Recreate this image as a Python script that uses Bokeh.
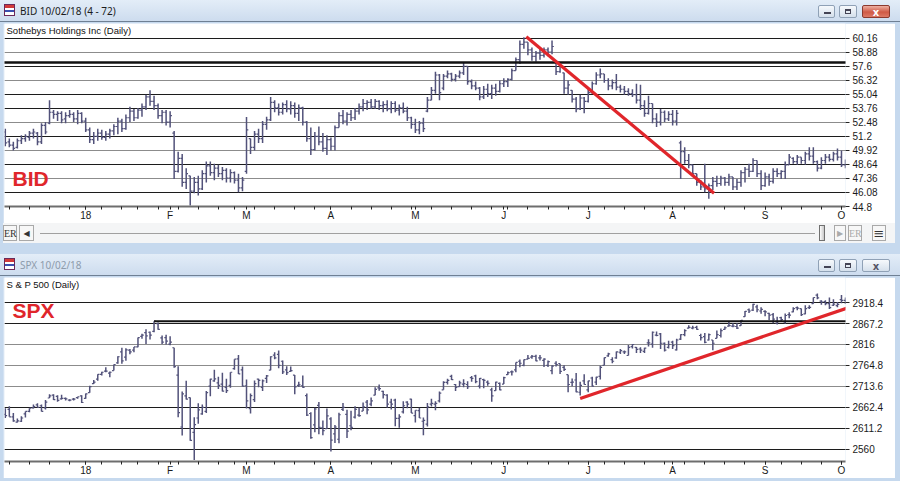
import pandas as pd
from bokeh.plotting import figure
from bokeh.models import (ColumnDataSource, Range1d, FixedTicker, Grid, Label, Div,
                          CustomJSTickFormatter)
from bokeh.layouts import column
from bokeh.embed import file_html
from bokeh.resources import INLINE

# ---------------- data ----------------
holidays = ["2017-12-25", "2018-01-01", "2018-01-15", "2018-02-19", "2018-03-30",
            "2018-05-28", "2018-07-04", "2018-09-03"]
dates = [d for d in pd.bdate_range("2017-12-01", "2018-10-02")
         if d.strftime("%Y-%m-%d") not in holidays]

month_labels = ["18", "F", "M", "A", "M", "J", "J", "A", "S", "O"]

bid_open = [51.6, 50.7, 50.4, 50.2, 50.8, 51.0, 51.1, 51.5, 51.5, 50.7,
            52.2, 52.4, 53.4, 53.2, 53.3, 52.8, 53.1, 53.2, 52.8, 53.3,
            52.6, 51.8, 50.9, 51.2, 51.5, 51.1, 51.4, 51.7, 52.1, 52.6,
            51.9, 52.9, 53.5, 52.9, 53.6, 53.9, 54.8, 54.4, 54.0, 53.1,
            53.4, 52.5, 51.5, 48.0, 49.2, 47.0, 47.6, 46.2, 47.0, 46.4,
            47.8, 48.5, 47.9, 48.3, 47.8, 48.1, 47.4, 47.9, 47.2, 46.5,
            48.0, 51.0, 50.2, 51.4, 51.0, 52.3, 52.7, 54.3, 53.8, 53.4,
            54.1, 53.7, 54.0, 53.3, 53.8, 52.5, 51.0, 50.0, 51.2, 50.7,
            50.1, 50.9, 50.3, 52.0, 53.1, 52.6, 53.2, 52.9, 53.5, 53.9,
            54.2, 54.3, 53.9, 54.4, 54.0, 54.1, 53.7, 54.2, 53.6, 53.8,
            53.5, 52.9, 52.3, 51.8, 52.4, 53.5, 54.5, 55.4, 56.8, 55.6,
            56.7, 56.9, 56.4, 56.7, 57.0, 57.6, 56.2, 55.8, 55.6, 54.8,
            55.5, 55.1, 55.6, 55.3, 56.0, 56.2, 56.4, 57.2, 58.2, 59.6,
            59.8, 59.1, 58.5, 58.8, 58.6, 59.1, 58.9, 58.0, 57.1, 57.0,
            55.6, 55.4, 54.6, 53.7, 54.7, 54.4, 55.2, 56.0, 56.8, 56.9,
            56.3, 55.8, 56.1, 55.7, 55.5, 55.3, 55.1, 55.0, 54.5, 54.0,
            53.3, 54.2, 52.8, 52.5, 53.4, 52.8, 53.2, 52.6, 50.6, 49.8,
            49.0, 48.6, 47.8, 47.0, 46.6, 46.4, 46.7, 47.1, 46.9, 47.4,
            47.0, 47.5, 46.6, 47.0, 47.9, 48.2, 48.0, 49.0, 47.8, 46.7,
            47.5, 47.1, 48.0, 47.8, 48.0, 48.6, 49.2, 48.9, 49.3, 49.0,
            49.6, 49.4, 48.9, 48.3, 49.0, 49.3, 49.1, 49.6, 49.3, 48.6]
bid_high = [51.9, 51.0, 50.7, 51.0, 51.3, 51.4, 51.7, 51.9, 51.6, 52.4,
            52.5, 54.5, 53.6, 53.5, 53.5, 53.4, 53.6, 53.4, 53.6, 53.4,
            52.9, 52.0, 51.6, 51.9, 51.8, 51.7, 51.9, 52.3, 52.9, 52.8,
            53.2, 53.9, 53.7, 53.8, 54.2, 55.0, 55.4, 54.9, 54.2, 53.6,
            53.6, 53.5, 51.7, 49.8, 49.6, 48.3, 47.6, 47.5, 47.6, 48.1,
            48.9, 48.9, 48.7, 48.6, 48.4, 48.3, 48.2, 48.0, 47.8, 47.5,
            52.96, 51.0, 51.7, 51.9, 52.6, 53.0, 54.8, 54.5, 54.2, 54.3,
            54.5, 54.4, 54.3, 54.1, 53.9, 52.6, 52.0, 51.6, 52.1, 51.5,
            51.3, 51.1, 52.2, 53.4, 53.6, 53.4, 53.6, 53.8, 54.2, 54.6,
            54.5, 54.6, 54.6, 54.5, 54.4, 54.5, 54.4, 54.4, 54.1, 54.3,
            53.9, 53.0, 52.8, 52.6, 52.9, 54.8, 55.7, 57.1, 56.9, 56.9,
            57.2, 57.0, 56.9, 57.2, 57.97, 57.6, 56.4, 56.2, 55.7, 55.8,
            56.0, 55.9, 56.0, 56.3, 56.5, 56.5, 57.4, 58.4, 59.95, 60.25,
            59.8, 59.3, 59.0, 59.3, 59.3, 59.3, 59.95, 58.0, 57.9, 57.0,
            56.3, 55.4, 54.8, 55.0, 54.8, 55.5, 56.2, 57.06, 57.4, 56.9,
            56.5, 56.4, 56.9, 55.9, 55.8, 55.6, 55.5, 56.0, 55.9, 54.5,
            54.9, 54.2, 53.3, 53.7, 53.57, 53.5, 53.6, 53.6, 50.8, 50.2,
            49.6, 48.6, 47.8, 47.2, 48.7, 46.9, 47.5, 47.6, 47.6, 47.5,
            47.8, 47.5, 47.3, 48.1, 48.4, 48.7, 49.2, 49.0, 48.1, 47.9,
            47.8, 48.3, 48.3, 48.1, 48.9, 49.6, 49.3, 49.5, 49.3, 49.8,
            50.2, 50.2, 49.0, 49.3, 49.6, 49.6, 49.8, 50.1, 49.9, 49.1]
bid_low = [50.3, 50.2, 49.9, 50.1, 50.5, 50.7, 50.8, 51.0, 50.4, 50.5,
           51.4, 52.3, 52.8, 52.6, 52.4, 52.4, 52.9, 52.5, 52.3, 52.4,
           51.6, 50.6, 50.5, 50.8, 50.9, 50.8, 51.0, 51.3, 51.4, 51.6,
           51.8, 52.5, 52.6, 52.8, 53.0, 53.6, 54.0, 53.6, 52.8, 52.4,
           52.2, 52.0, 47.3, 47.9, 46.6, 46.4, 44.9, 46.0, 45.8, 46.3,
           47.0, 47.6, 47.2, 47.5, 47.2, 47.0, 47.0, 46.9, 46.1, 46.2,
           47.8, 49.6, 49.9, 50.6, 50.6, 51.8, 52.6, 53.4, 53.1, 53.2,
           53.4, 53.2, 52.9, 52.6, 52.2, 50.7, 49.5, 49.9, 50.4, 49.8,
           49.5, 49.9, 49.9, 52.0, 52.3, 52.2, 52.6, 52.7, 53.2, 53.5,
           53.6, 53.7, 53.7, 53.6, 53.4, 53.5, 53.3, 53.4, 53.1, 53.3,
           52.6, 51.9, 51.5, 51.4, 51.6, 53.4, 54.5, 55.1, 54.5, 55.4,
           56.5, 56.2, 56.2, 56.5, 56.8, 55.9, 55.5, 55.4, 54.5, 54.6,
           54.8, 54.6, 54.9, 55.2, 55.7, 55.7, 56.3, 57.2, 57.8, 59.2,
           58.6, 58.1, 58.0, 58.2, 58.4, 58.5, 58.7, 56.8, 57.0, 55.1,
           55.0, 54.3, 53.4, 53.6, 53.3, 54.3, 55.1, 55.9, 56.5, 56.1,
           55.4, 55.5, 55.4, 55.2, 55.0, 54.9, 54.8, 54.2, 53.6, 53.0,
           53.2, 52.4, 52.05, 52.2, 52.5, 52.6, 52.2, 52.2, 47.3, 48.7,
           48.3, 47.5, 46.7, 46.3, 46.1, 45.5, 46.3, 46.6, 46.7, 46.7,
           46.7, 46.3, 46.3, 46.6, 47.0, 47.5, 47.95, 47.5, 46.3, 46.6,
           46.7, 46.9, 47.5, 47.3, 47.3, 48.6, 48.7, 48.6, 48.7, 48.6,
           49.0, 48.7, 48.0, 48.2, 48.7, 48.9, 48.9, 49.0, 48.4, 48.3]
bid_close = [50.6, 50.4, 50.1, 50.8, 51.0, 51.2, 51.5, 51.6, 50.7, 52.2,
             51.6, 53.4, 53.2, 53.3, 52.7, 53.1, 53.2, 52.8, 53.3, 52.6,
             51.8, 50.9, 51.2, 51.5, 51.1, 51.4, 51.7, 52.1, 52.6, 51.9,
             52.9, 53.5, 52.9, 53.6, 53.9, 54.8, 54.4, 54.0, 53.1, 53.4,
             52.5, 53.1, 48.0, 49.2, 47.0, 47.8, 46.2, 47.0, 46.4, 47.8,
             48.5, 47.9, 48.3, 47.8, 48.1, 47.4, 47.9, 47.2, 46.5, 47.2,
             51.8, 50.2, 51.4, 51.0, 52.3, 52.7, 54.3, 53.8, 53.4, 54.1,
             53.7, 54.0, 53.3, 53.8, 52.5, 51.0, 50.0, 51.2, 50.7, 50.1,
             50.9, 50.3, 52.0, 53.1, 52.6, 53.2, 52.9, 53.5, 53.9, 54.2,
             54.3, 53.9, 54.4, 54.0, 54.1, 53.7, 54.2, 53.6, 53.8, 53.5,
             52.9, 52.3, 51.8, 52.4, 51.9, 54.5, 55.4, 56.8, 55.2, 56.7,
             56.9, 56.4, 56.7, 57.0, 57.6, 56.2, 55.8, 55.6, 54.8, 55.5,
             55.1, 55.6, 55.3, 56.0, 56.2, 56.4, 57.2, 58.2, 59.6, 59.8,
             59.1, 58.5, 58.8, 58.6, 59.1, 58.9, 59.4, 57.1, 57.6, 55.6,
             55.9, 54.6, 53.7, 54.7, 54.4, 55.2, 56.0, 56.8, 56.9, 56.3,
             55.8, 56.1, 55.7, 55.5, 55.3, 55.1, 55.0, 54.5, 54.0, 53.3,
             54.2, 52.8, 52.5, 53.4, 52.8, 53.2, 52.6, 53.3, 49.8, 49.0,
             48.6, 47.8, 47.0, 46.6, 46.4, 46.7, 47.1, 46.9, 47.4, 47.0,
             47.5, 46.6, 47.0, 47.9, 48.2, 48.0, 49.0, 47.8, 46.7, 47.5,
             47.1, 48.0, 47.8, 48.0, 48.6, 49.3, 48.9, 49.3, 49.0, 49.6,
             49.4, 48.9, 48.3, 49.0, 49.3, 49.1, 49.6, 49.3, 48.6, 48.5]

spx_open = [2645, 2657, 2639, 2626, 2628, 2646, 2652, 2661, 2668, 2666,
            2661, 2685, 2692, 2689, 2683, 2684, 2680, 2682, 2686, 2690,
            2684, 2698, 2720, 2731, 2743, 2751, 2746, 2752, 2771, 2798,
            2785, 2802, 2802, 2810, 2836, 2845, 2846, 2848, 2867, 2832,
            2833, 2817, 2808, 2741, 2614, 2690, 2686, 2601, 2636, 2646,
            2652, 2714, 2727, 2722, 2719, 2711, 2716, 2757, 2781, 2754,
            2715, 2659, 2681, 2731, 2711, 2733, 2753, 2790, 2792, 2775,
            2754, 2750, 2741, 2716, 2715, 2691, 2647, 2619, 2667, 2612,
            2610, 2634, 2597, 2584, 2657, 2645, 2617, 2638, 2643, 2653,
            2675, 2670, 2692, 2710, 2701, 2692, 2675, 2680, 2635, 2651,
            2675, 2682, 2642, 2654, 2628, 2621, 2670, 2670, 2678, 2705,
            2723, 2738, 2718, 2713, 2719, 2718, 2735, 2739, 2714, 2730,
            2724, 2705, 2703, 2721, 2719, 2742, 2749, 2754, 2775, 2765,
            2780, 2785, 2787, 2783, 2777, 2765, 2752, 2770, 2769, 2760,
            2742, 2723, 2729, 2699, 2727, 2705, 2734, 2724, 2738, 2765,
            2788, 2779, 2783, 2797, 2798, 2789, 2811, 2809, 2805, 2799,
            2820, 2817, 2839, 2842, 2819, 2809, 2822, 2803, 2829, 2840,
            2856, 2856, 2858, 2838, 2835, 2827, 2827, 2831, 2838, 2853,
            2861, 2861, 2860, 2862, 2884, 2901, 2900, 2908, 2898, 2897,
            2892, 2889, 2868, 2882, 2871, 2889, 2896, 2906, 2904, 2891,
            2906, 2916, 2937, 2922, 2921, 2916, 2912, 2911, 2926, 2924]
spx_high = [2660, 2665, 2648, 2635, 2640, 2652, 2660, 2669, 2672, 2669,
            2680, 2694, 2694, 2692, 2693, 2686, 2682, 2685, 2688, 2692,
            2696, 2715, 2729, 2743, 2749, 2760, 2750, 2767, 2787, 2808,
            2807, 2805, 2810, 2833, 2842, 2853, 2848, 2873, 2870, 2838,
            2840, 2836, 2808, 2763, 2701, 2727, 2686, 2638, 2672, 2669,
            2702, 2732, 2754, 2737, 2747, 2732, 2748, 2780, 2790, 2762,
            2730, 2696, 2728, 2732, 2730, 2741, 2787, 2797, 2801, 2777,
            2763, 2762, 2741, 2725, 2740, 2696, 2650, 2661, 2675, 2630,
            2659, 2638, 2619, 2649, 2673, 2656, 2654, 2665, 2662, 2674,
            2680, 2686, 2711, 2718, 2703, 2694, 2683, 2683, 2645, 2677,
            2677, 2683, 2655, 2661, 2637, 2673, 2683, 2677, 2701, 2726,
            2732, 2742, 2719, 2727, 2731, 2726, 2739, 2742, 2734, 2732,
            2728, 2710, 2725, 2723, 2737, 2750, 2752, 2772, 2779, 2779,
            2790, 2790, 2791, 2790, 2782, 2777, 2765, 2775, 2769, 2765,
            2742, 2733, 2746, 2725, 2743, 2727, 2737, 2737, 2764, 2784,
            2796, 2785, 2799, 2805, 2801, 2815, 2817, 2810, 2809, 2808,
            2829, 2848, 2848, 2844, 2821, 2825, 2825, 2830, 2841, 2853,
            2863, 2862, 2862, 2842, 2844, 2843, 2827, 2850, 2855, 2860,
            2873, 2868, 2868, 2876, 2898, 2904, 2916, 2913, 2907, 2900,
            2894, 2893, 2884, 2884, 2892, 2895, 2907, 2909, 2904, 2912,
            2912, 2931, 2941, 2924, 2924, 2931, 2927, 2920, 2937, 2931]
spx_low = [2636, 2639, 2627, 2625, 2626, 2637, 2650, 2659, 2662, 2652,
           2657, 2685, 2680, 2676, 2681, 2679, 2677, 2679, 2683, 2673,
           2683, 2698, 2719, 2727, 2740, 2748, 2736, 2752, 2769, 2769,
           2776, 2792, 2797, 2809, 2830, 2817, 2828, 2846, 2852, 2817,
           2816, 2814, 2759, 2638, 2593, 2681, 2580, 2533, 2622, 2644,
           2648, 2689, 2725, 2707, 2701, 2697, 2710, 2754, 2744, 2713,
           2659, 2647, 2675, 2711, 2702, 2722, 2753, 2780, 2758, 2744,
           2741, 2749, 2694, 2712, 2710, 2641, 2585, 2601, 2596, 2594,
           2609, 2554, 2575, 2574, 2653, 2587, 2606, 2635, 2639, 2653,
           2645, 2665, 2692, 2703, 2684, 2661, 2657, 2616, 2612, 2647,
           2660, 2648, 2625, 2636, 2594, 2615, 2664, 2655, 2674, 2705,
           2718, 2729, 2702, 2712, 2711, 2707, 2725, 2721, 2708, 2709,
           2715, 2676, 2703, 2704, 2719, 2741, 2740, 2748, 2760, 2763,
           2780, 2781, 2775, 2777, 2761, 2761, 2743, 2762, 2744, 2751,
           2699, 2714, 2699, 2691, 2718, 2699, 2713, 2717, 2730, 2765,
           2786, 2770, 2781, 2793, 2793, 2789, 2806, 2795, 2795, 2795,
           2811, 2808, 2836, 2805, 2799, 2806, 2805, 2801, 2827, 2836,
           2855, 2853, 2852, 2826, 2819, 2826, 2802, 2831, 2833, 2852,
           2860, 2858, 2854, 2862, 2884, 2893, 2898, 2895, 2891, 2885,
           2876, 2868, 2865, 2873, 2867, 2880, 2895, 2900, 2886, 2890,
           2903, 2916, 2927, 2913, 2912, 2903, 2910, 2907, 2917, 2915]
spx_close = [2642, 2639, 2629, 2629, 2636, 2652, 2660, 2664, 2662, 2652,
             2675, 2690, 2681, 2679, 2684, 2683, 2680, 2682, 2688, 2674,
             2695, 2713, 2724, 2743, 2748, 2751, 2748, 2767, 2786, 2776,
             2803, 2798, 2810, 2833, 2839, 2837, 2839, 2873, 2853, 2822,
             2824, 2822, 2762, 2649, 2695, 2682, 2581, 2620, 2656, 2662,
             2698, 2731, 2732, 2716, 2702, 2703, 2748, 2780, 2744, 2714,
             2678, 2691, 2720, 2728, 2727, 2739, 2786, 2783, 2765, 2749,
             2747, 2752, 2712, 2717, 2711, 2643, 2588, 2658, 2613, 2605,
             2641, 2582, 2614, 2644, 2662, 2604, 2613, 2657, 2642, 2663,
             2656, 2678, 2706, 2708, 2693, 2670, 2670, 2635, 2639, 2666,
             2670, 2648, 2655, 2636, 2630, 2663, 2672, 2672, 2697, 2723,
             2728, 2730, 2711, 2722, 2720, 2713, 2733, 2725, 2733, 2728,
             2721, 2690, 2724, 2705, 2735, 2747, 2749, 2772, 2770, 2779,
             2782, 2787, 2776, 2783, 2780, 2774, 2763, 2767, 2750, 2755,
             2718, 2724, 2700, 2716, 2718, 2727, 2714, 2736, 2760, 2784,
             2793, 2775, 2798, 2801, 2798, 2809, 2816, 2804, 2802, 2807,
             2820, 2846, 2838, 2819, 2802, 2816, 2813, 2827, 2840, 2850,
             2858, 2857, 2853, 2833, 2821, 2840, 2819, 2840, 2850, 2857,
             2862, 2861, 2856, 2875, 2897, 2898, 2914, 2901, 2902, 2896,
             2888, 2878, 2872, 2877, 2887, 2888, 2904, 2905, 2889, 2904,
             2907, 2931, 2930, 2920, 2916, 2906, 2915, 2914, 2924, 2923]

bid_levels = [44.8, 46.08, 47.36, 48.64, 49.92, 51.2, 52.48, 53.76, 55.04,
              56.32, 57.6, 58.88, 60.16]
bid_dark = [46.08, 48.64, 51.2, 53.76, 55.04, 57.6, 60.16]
bid_light = [47.36, 49.92, 52.48, 56.32, 58.88]
spx_levels = [2560, 2611.2, 2662.4, 2713.6, 2764.8, 2816, 2867.2, 2918.4]
spx_dark = [2560, 2611.2, 2662.4, 2867.2, 2918.4]
spx_light = [2713.6, 2764.8, 2816]

# user-drawn lines (bar index, price)
bid_trend_x = [129.6, 176.3]
bid_trend_y = [60.3, 46.0]
bid_hline_x = [-1, 210]
bid_hline_y = [57.95, 57.95]
spx_trend_x = [143.0, 209.6]
spx_trend_y = [2684, 2905.7]
spx_hline_x = [37, 210]
spx_hline_y = [2872.9, 2872.9]

# ---------------- derived positions ----------------
idx = list(range(len(dates)))
month_idx = [i for i in idx if i > 0 and dates[i].month != dates[i - 1].month]
week_idx = [i for i in idx if i > 0 and dates[i].isocalendar()[1] != dates[i - 1].isocalendar()[1]]

BAR = "#52527a"
RED = "#e0262b"
FONT = "Liberation Sans"
FRAME = "#c6d9ee"
W = 900


def panel(o, h, l, c, yr, levels, dark, light, height):
    p = figure(width=W - 8, height=height, x_range=Range1d(-0.2, 209.0), y_range=Range1d(*yr),
               output_backend="svg", toolbar_location=None, y_axis_location="right",
               title=None, min_border_left=1, min_border_right=50, min_border_top=0,
               min_border_bottom=14)
    p.outline_line_color = None
    p.background_fill_color = "white"
    p.border_fill_color = "white"
    p.xgrid.visible = False
    p.ygrid.ticker = FixedTicker(ticks=dark)
    p.ygrid.grid_line_color = "#1c1c1c"
    p.ygrid.grid_line_width = 1
    p.add_layout(Grid(dimension=1, ticker=FixedTicker(ticks=light),
                      grid_line_color="#8c8c8c", grid_line_width=1))

    ya = p.yaxis[0]
    ya.ticker = FixedTicker(ticks=levels)
    ya.formatter = CustomJSTickFormatter(code="return String(Math.round(tick*100)/100);")
    ya.axis_line_color = None
    ya.major_tick_out = 4
    ya.major_tick_in = 0
    ya.minor_tick_line_color = None
    ya.major_tick_line_color = "#222222"
    ya.major_label_standoff = 3
    ya.major_label_text_font = FONT
    ya.major_label_text_font_size = "10px"
    ya.major_label_text_color = "#1a1a1a"

    xa = p.xaxis[0]
    xa.ticker = FixedTicker(ticks=month_idx, minor_ticks=week_idx)
    xa.major_label_overrides = {i: s for i, s in zip(month_idx, month_labels)}
    xa.axis_line_color = "#6e6e6e"
    xa.axis_line_width = 2
    xa.major_tick_out = 3
    xa.major_tick_in = 0
    xa.minor_tick_out = 3
    xa.minor_tick_in = 0
    xa.major_tick_line_color = "#222222"
    xa.minor_tick_line_color = "#222222"
    xa.major_label_standoff = 0
    xa.major_label_text_font = FONT
    xa.major_label_text_font_size = "10px"
    xa.major_label_text_color = "#1a1a1a"

    src = ColumnDataSource(dict(x=idx, xl=[i - 0.45 for i in idx], xr=[i + 0.45 for i in idx],
                                o=o, h=h, l=l, c=c))
    p.segment(x0="x", y0="l", x1="x", y1="h", source=src, line_color=BAR, line_width=1.5)
    p.segment(x0="xl", y0="o", x1="x", y1="o", source=src, line_color=BAR, line_width=1.2)
    p.segment(x0="x", y0="c", x1="xr", y1="c", source=src, line_color=BAR, line_width=1.2)
    return p


p1 = panel(bid_open, bid_high, bid_low, bid_close, (44.8, 61.5), bid_levels, bid_dark,
           bid_light, 200)
p1.line(bid_hline_x, bid_hline_y, line_color="#111111", line_width=2.5)
p1.line(bid_trend_x, bid_trend_y, line_color=RED, line_width=3.2)
p1.add_layout(Label(x=0.3, y=61.4, text="Sothebys Holdings Inc (Daily)", text_baseline="top",
                    text_font=FONT, text_font_size="9.5px", text_color="#111111"))
p1.add_layout(Label(x=1.8, y=46.3, text="BID", text_font=FONT, text_font_size="21px",
                    text_font_style="bold", text_color=RED))

p2 = panel(spx_open, spx_high, spx_low, spx_close, (2529.5, 2980), spx_levels, spx_dark,
           spx_light, 201)
p2.line(spx_hline_x, spx_hline_y, line_color="#111111", line_width=1.8)
p2.line(spx_trend_x, spx_trend_y, line_color=RED, line_width=3.2)
p2.add_layout(Label(x=0.3, y=2976, text="S & P 500 (Daily)", text_baseline="top",
                    text_font=FONT, text_font_size="9.5px", text_color="#111111"))
p2.add_layout(Label(x=1.8, y=2871, text="SPX", text_font=FONT, text_font_size="21px",
                    text_font_style="bold", text_color=RED))

for p in (p1, p2):
    p.margin = (0, 5, 0, 3)


def title_bar(txt, active, h):
    tcol = "#1b1b1b" if active else "#8d9bab"
    btn = ("position:absolute;top:5px;height:13px;border-radius:2px;"
           "background:linear-gradient(#f6f9fc,#d5e0ec);border:1px solid #8fa1b6;")
    close = ("background:linear-gradient(#eeb0a2,#cf5a46 55%,#dd7a66);border:1px solid #8b3a2f;"
             if active else "")
    html = (
        f'<div style="position:relative;width:{W}px;height:{h - 1}px;border-bottom:1px solid #6f8094;'
        f'background:linear-gradient(#e3edf8,#cddcee);overflow:hidden;">'
        f'<div style="position:absolute;left:4px;top:4px;width:11px;height:12px;border:1px solid #6b2a5a;'
        f'background:linear-gradient(#d23a3a 0 35%,#ffffff 35% 55%,#3a4fb0 55% 70%,#ffffff 70%);"></div>'
        f'<div style="position:absolute;left:20px;top:0;line-height:{h - 1}px;font-family:\'Noto Sans\';'
        f'font-size:10px;color:{tcol};white-space:nowrap;">{txt}</div>'
        f'<div style="{btn}left:818px;width:17px;"><div style="position:absolute;left:5px;top:6px;'
        f'width:7px;height:2px;border:1px solid #445;"></div></div>'
        f'<div style="{btn}left:839px;width:18px;"><div style="position:absolute;left:5px;top:3px;'
        f'width:6px;height:5px;border:1px solid #445;border-top-width:2px;"></div></div>'
        f'<div style="{btn}{close}left:862px;width:28px;text-align:center;line-height:13px;'
        f'font-family:\'DejaVu Sans\';font-size:10px;font-weight:bold;color:{"#ffffff" if active else "#556"};">x</div>'
        f'</div>')
    d = Div(text=html, width=W, height=h)
    d.margin = (0, 0, 0, 0)
    return d


def box(left, w, inner, extra=""):
    return (f'<div style="position:absolute;left:{left}px;top:2px;width:{w}px;height:16px;'
            f'border:1px solid #a9a9a9;background:#f7f7f7;text-align:center;line-height:16px;'
            f'font-family:\'Liberation Serif\';font-size:10px;color:#333;{extra}">{inner}</div>')


scroll_html = (
    f'<div style="position:relative;width:{W - 8}px;height:20px;background:#f4f5f6;">'
    + box(0, 14, "ER")
    + box(16, 15, "&#9664;", "font-family:'DejaVu Sans';font-size:8px;")
    + '<div style="position:absolute;left:37px;top:10px;width:775px;height:1px;background:#a0a0a0;"></div>'
    + '<div style="position:absolute;left:816px;top:2px;width:6px;height:16px;border:1px solid #707070;'
      'background:linear-gradient(90deg,#fdfdfd,#c8c8c8);"></div>'
    + box(831, 12, "&#9654;", "font-family:'DejaVu Sans';font-size:8px;color:#aaa;")
    + box(845, 14, "ER", "color:#aaa;")
    + box(869, 14, "&#8801;", "font-family:'DejaVu Sans';font-size:13px;")
    + '</div>')
scroll = Div(text=scroll_html, width=W - 8, height=20)
scroll.margin = (0, 5, 0, 3)

gap = Div(text="", width=W, height=11)
gap.margin = (0, 0, 0, 0)
t1 = title_bar("BID 10/02/18 (4 - 72)", True, 23)
t2 = title_bar("SPX 10/02/18", False, 23)
rem = Div(text=f'<div style="width:{W - 8}px;height:3px;background:#f4f5f6;"></div>',
          width=W - 8, height=3)
rem.margin = (0, 5, 0, 3)

layout = column(t1, p1, scroll, gap, t2, p2, rem, spacing=0,
                styles={"background-color": FRAME})
layout.margin = (0, 0, 0, 0)

open("out.html", "w").write(file_html(layout, INLINE))
